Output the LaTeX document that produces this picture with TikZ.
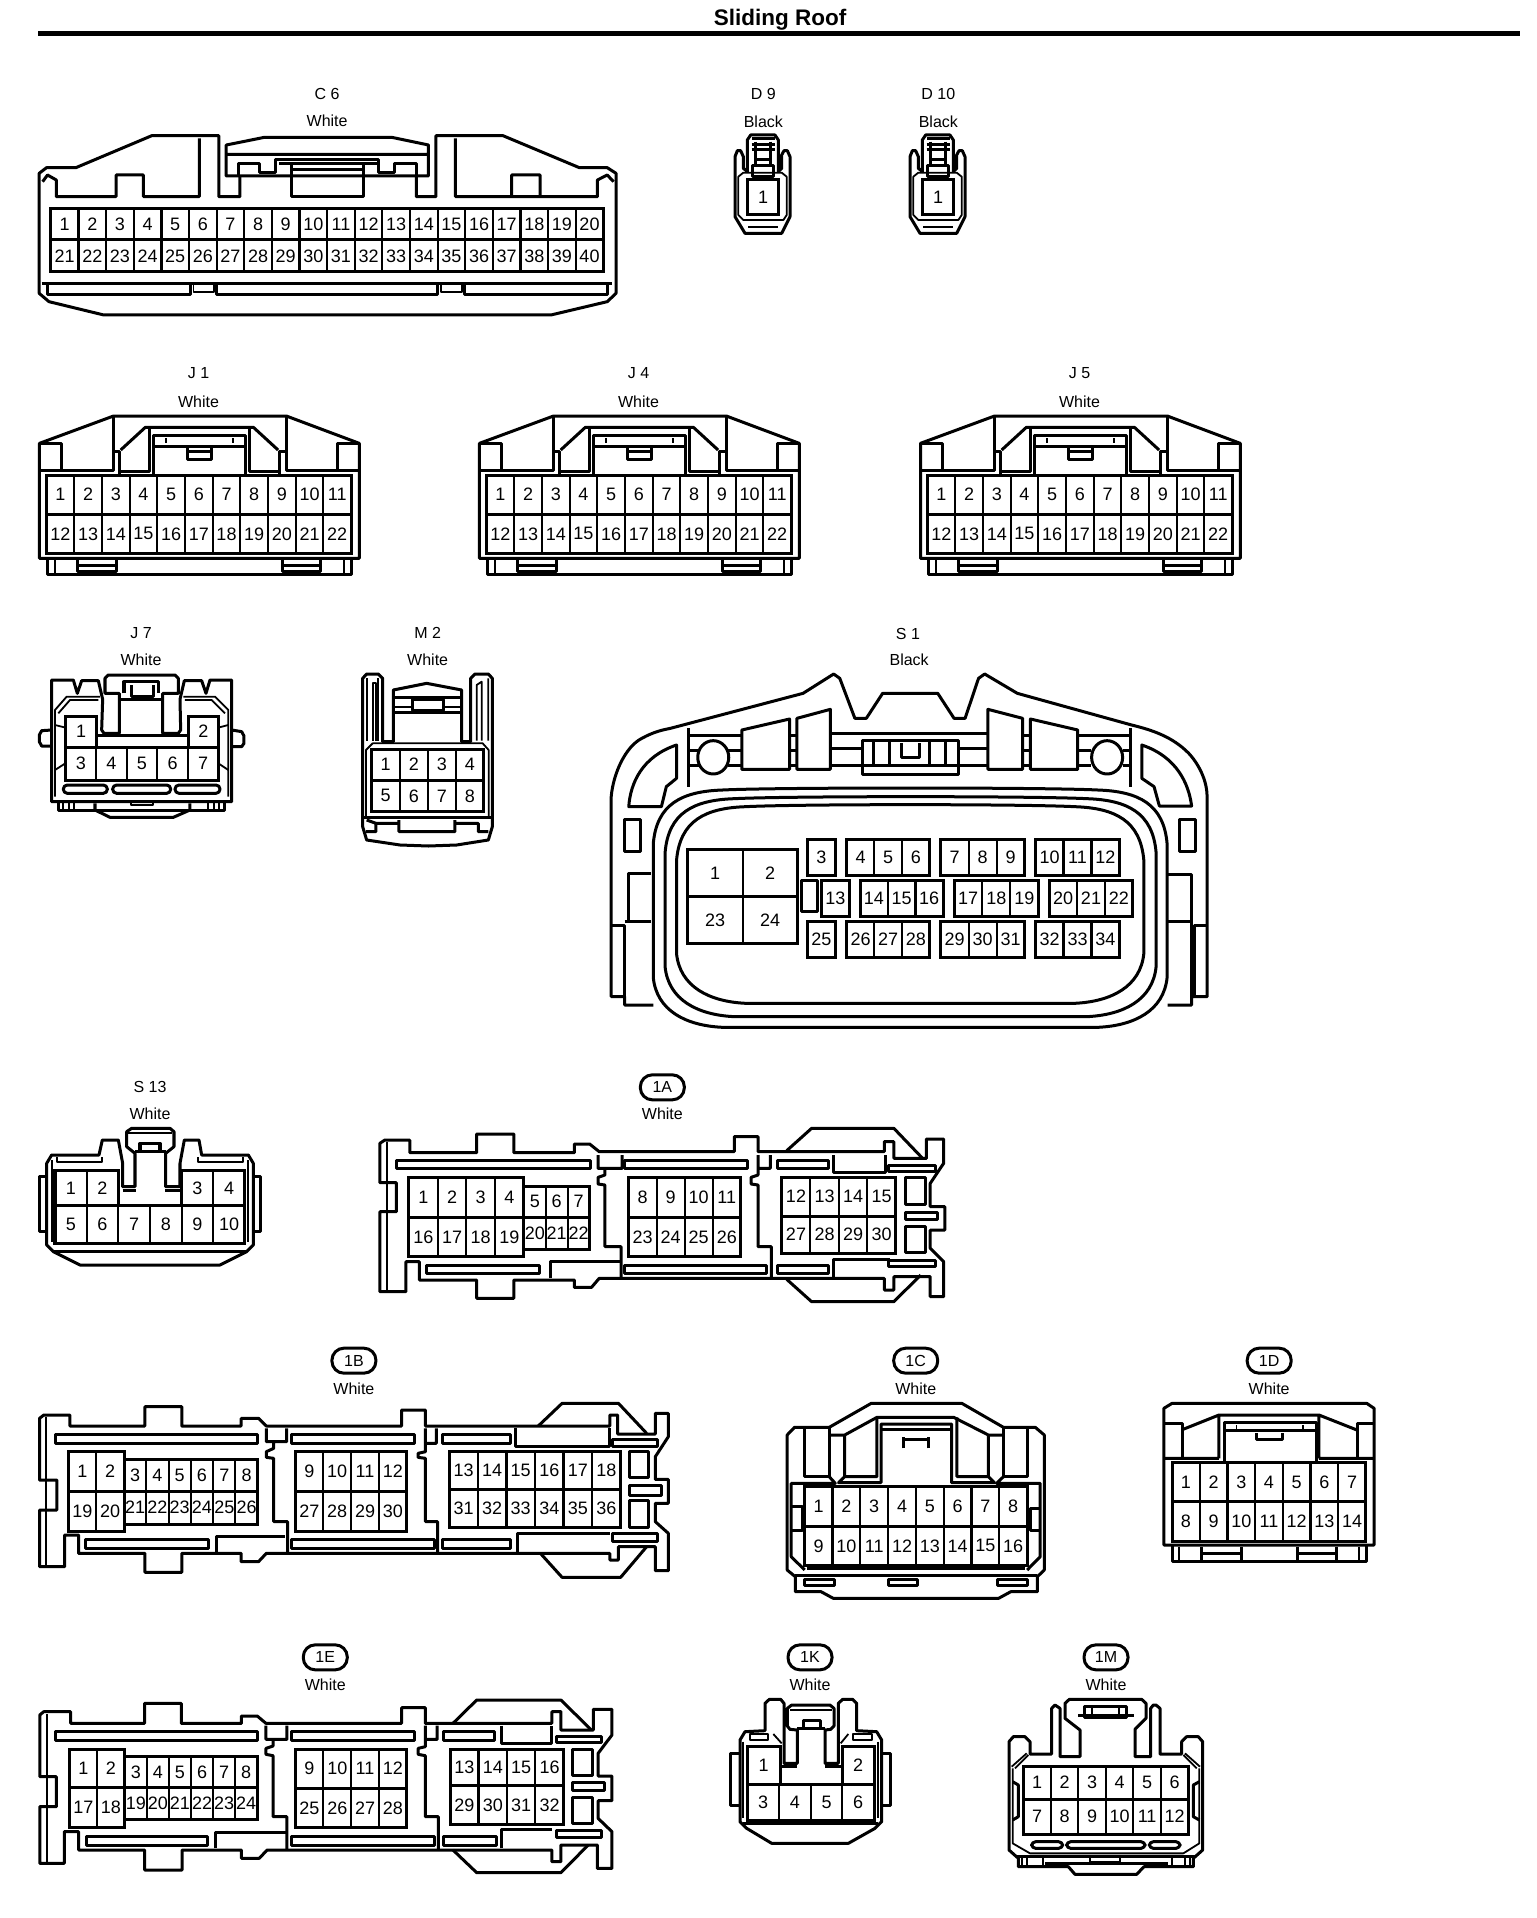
\documentclass[tikz,border=0pt]{standalone}
\usepackage{graphicx}
\usepackage{fontspec}
\setmainfont{Liberation Sans}
\usetikzlibrary{positioning,shapes}

\tikzset{
  wall/.style={draw=black,line width=3pt,line join=round,fill=none},
  rib/.style={draw=black,line width=1.8pt,line join=round,fill=none},
  pinbox/.style={draw=black,line width=3pt},
  pindiv/.style={draw=black,line width=2.2pt},
  pin/.style={inner sep=0pt,font=\fontsize{18}{18}\selectfont},
  tag/.style={inner sep=0pt,font=\fontsize{16}{16}\selectfont},
  badge/.style={draw=black,line width=3pt,rounded corners=12pt,minimum width=44pt,minimum height=25pt,inner sep=0pt,font=\fontsize{16}{16}\selectfont},
  view/.style n args={3}{shift={(#1pt,-#2pt)},x=#3pt,y=-.33333pt}
}

% one row of pins: name, x1, y1, x2, y2, count, first number
\newcommand{\pinrow}[7]{%
  \pgfmathsetmacro{\cellw}{(#4-#2)/#6}
  \pgfmathsetmacro{\celly}{(#3+#5)/2}
  \draw[pinbox] (#2,#3) rectangle (#4,#5);
  \foreach \k in {1,...,#6}{
    \pgfmathsetmacro{\cellx}{#2+(\k-.5)*\cellw}
    \pgfmathsetmacro{\cellr}{#2+\k*\cellw}
    \pgfmathtruncatemacro{\pinno}{#7+\k-1}
    \node[pin] (#1\pinno) at (\cellx,\celly) {\pinno};
    \ifnum\k<#6 \draw[pindiv] (\cellr,#3) -- (\cellr,#5);\fi
  }%
}
% two rows: name, x1, y1, x2, ymid, y2, count, first, second
\newcommand{\pingrid}[9]{%
  \pinrow{#1}{#2}{#3}{#4}{#5}{#7}{#8}
  \pinrow{#1}{#2}{#5}{#4}{#6}{#7}{#9}
}
% seal ring of S 1: left, top, right, bottom
\newcommand{\sealring}[4]{%
  \draw[wall] (#1,#2+170) .. controls (#1+8,#2+50) and (#1+70,#2+12) .. (#1+170,#2+8)
    .. controls (#1+300,#2) and (#3-300,#2) .. (#3-170,#2+8)
    .. controls (#3-70,#2+12) and (#3-8,#2+50) .. (#3,#2+170) -- (#3,#4-150)
    .. controls (#3-8,#4-50) and (#3-80,#4-5) .. (#3-170,#4) -- (#1+170,#4)
    .. controls (#1+80,#4-5) and (#1+8,#4-50) .. (#1,#4-150) -- cycle;
}
% J connector, one view
\newcommand{\jconn}[3]{%
  \begin{scope}[view={#2}{340}{.5485}]
    \node[tag] (#1tag) at (362,100) {#3};
    \node[tag] (#1col) at (362,185) {White};
    \draw[wall] (72,310) -- (207,228) -- (522,228) -- (655,310) -- (655,655) -- (72,655) -- cycle;
    \draw[wall] (87,655) -- (87,703) -- (640,703) -- (640,655);
    \draw[rib] (100,655) -- (100,703) (627,655) -- (627,703);
    \draw[wall] (142,660) -- (142,695) -- (212,695) -- (212,660) (142,677) -- (212,677);
    \draw[wall] (515,660) -- (515,695) -- (585,695) -- (585,660) (515,677) -- (585,677);
    \draw[wall] (72,310) -- (112,310) -- (112,392) (72,392) -- (207,392) -- (207,228);
    \draw[wall] (207,335) -- (217,335) -- (217,405);
    \draw[wall] (615,392) -- (615,310) -- (655,310) (655,392) -- (522,392) -- (522,228);
    \draw[wall] (522,335) -- (510,335) -- (510,405);
    \draw[wall] (220,330) -- (265,262) -- (462,262) -- (507,330);
    \draw[wall] (217,395) -- (272,395) -- (272,265) (510,395) -- (455,395) -- (455,265);
    \draw[wall] (280,405) -- (280,285) -- (448,285) -- (448,405) (280,318) -- (448,318);
    \draw[rib] (303,295) -- (303,308) (425,295) -- (425,308);
    \draw[wall] (342,318) -- (342,358) -- (385,358) -- (385,318) (342,335) -- (385,335);
    \pingrid{#1p}{85}{405}{640}{523}{640}{11}{1}{12}
  \end{scope}%
}
% D connector, one view
\newcommand{\dconn}[4]{%
  \begin{scope}[view={#2}{80}{.33333}]
    \node[tag] (#1tag) at (#4,43) {#3};
    \node[tag] (#1col) at (#4,125) {Black};
    \draw[wall] (45,230) -- (52,212) -- (62,212) -- (70,230) -- (70,265) -- (82,275) -- (82,180) -- (92,165) -- (165,165) -- (175,180)
      -- (175,275) -- (185,265) -- (185,225) -- (192,212) -- (202,212) -- (210,230) -- (210,410) -- (185,460) -- (75,460) -- (45,410) -- cycle;
    \draw[rib] (55,290) -- (55,405) -- (70,420) -- (190,420) -- (200,405) -- (200,290) -- (185,278) -- (70,278) -- cycle;
    \draw[rib] (85,440) -- (175,440);
    \draw[wall] (95,175) -- (165,175) (95,195) -- (165,195) (95,210) -- (165,210);
    \draw[wall] (107,185) -- (107,258) (150,185) -- (150,258) (110,240) -- (148,240);
    \draw[wall] (97,258) rectangle (160,290);
    \pinrow{#1p}{83}{300}{175}{405}{1}{1}
  \end{scope}%
}

\begin{document}
\begin{tikzpicture}[x=1pt,y=-1pt]
  \useasboundingbox (0,0) rectangle (1536,1918);
  \fill[white] (0,0) rectangle (1536,1918);

  % title
  \node[inner sep=0pt,font=\fontsize{22.5}{23}\selectfont\bfseries] (title) at (780,20) {Sliding Roof};
  \fill[black] (38,31) rectangle (1520,36);

  % C 6
  \begin{scope}[view={0}{0}{.4897}]
    \node[tag] (c6tag) at (668,283) {C 6};
    \node[tag] (c6col) at (668,363) {White};
    \draw[wall] (490,528) -- (490,590) -- (447,590) -- (447,407) -- (310,407) -- (155,503) -- (95,503) -- (80,520) -- (80,880) -- (100,905) -- (212,945) -- (1125,945)
      -- (1240,905) -- (1258,880) -- (1258,520) -- (1240,503) -- (1183,503) -- (1027,407) -- (890,407) -- (890,590) -- (850,590) -- (850,528);
    \draw[wall] (462,528) -- (462,435) -- (540,412) -- (800,412) -- (875,435) -- (875,528) -- cycle (462,463) -- (875,463);
    \draw[wall] (487,525) -- (487,490) -- (530,490) -- (530,518) -- (562,518) -- (562,478) -- (772,478) -- (772,518) -- (806,518) -- (806,490) -- (850,490) -- (850,528);
    \draw[wall] (595,490) -- (595,590) -- (742,590) -- (742,490) (570,490) -- (772,490) (595,510) -- (742,510);
    \draw[wall] (407,415) -- (407,590) -- (293,590) -- (293,525) -- (237,525) -- (237,590) -- (115,590) -- (115,540) -- (97,525) -- (87,545);
    \draw[wall] (930,415) -- (930,590) -- (1103,590) -- (1103,525) -- (1045,525) -- (1045,590) -- (1220,590) -- (1220,540) -- (1240,525) -- (1253,545);
    \pingrid{c6p}{104}{625}{1232}{720}{815}{20}{1}{21}
    \draw[wall] (85,850) -- (1250,850);
    \draw[wall] (97,850) -- (97,885) -- (388,885) -- (388,850) (442,850) -- (442,885) -- (893,885) -- (893,850) (948,850) -- (948,885) -- (1240,885) -- (1240,850);
    \draw[rib] (395,855) -- (395,875) -- (437,875) -- (437,855) (900,855) -- (900,875) -- (943,875) -- (943,855);
  \end{scope}

  % D 9, D 10
  \dconn{dnine}{720}{D 9}{130}
  \dconn{dten}{895}{D 10}{130}

  % J 1, J 4, J 5
  \jconn{jone}{0}{J 1}
  \jconn{jfour}{440}{J 4}
  \jconn{jfive}{881}{J 5}

  % J 7
  \begin{scope}[view={0}{610}{.33333}]
    \node[tag] (jseventag) at (423,68) {J 7};
    \node[tag] (jsevencol) at (423,150) {White};
    \draw[wall] (155,575) -- (155,210) -- (220,210) -- (232,250) -- (245,212) -- (295,212) -- (308,268) -- (305,360) -- (312,370) -- (358,370) -- (358,250)
      -- (315,250) -- (315,205) -- (325,195) -- (525,195) -- (535,205) -- (535,250) -- (488,250) -- (488,370) -- (535,370) -- (542,360) -- (540,268)
      -- (553,212) -- (605,212) -- (618,250) -- (630,210) -- (695,210) -- (695,575) -- cycle;
    \draw[wall] (360,268) -- (488,268);
    \draw[wall] (372,250) -- (372,215) -- (475,215) -- (475,250) (395,225) -- (395,258) -- (460,258) -- (460,225);
    \draw[rib] (165,560) -- (165,300) -- (200,260) -- (300,260) (175,310) -- (210,270) -- (295,270);
    \draw[rib] (685,560) -- (685,300) -- (645,260) -- (550,260) (675,310) -- (635,270) -- (555,270);
    \pinrow{jsevenp}{197}{318}{290}{412}{1}{1}
    \pinrow{jsevenq}{565}{318}{655}{412}{1}{2}
    \pinrow{jsevenr}{197}{412}{655}{510}{5}{3}
    \draw[wall] (290,375) -- (565,375);
    \draw[wall] (155,360) -- (125,362) -- (118,375) -- (118,395) -- (125,408) -- (158,408);
    \draw[wall] (695,360) -- (725,365) -- (732,378) -- (732,400) -- (725,410) -- (695,410);
    \draw[rib] (165,345) -- (193,352) (165,480) -- (193,462) (685,345) -- (658,352) (685,480) -- (658,462);
    \draw[wall,rounded corners=4pt] (190,525) rectangle (322,550);
    \draw[wall,rounded corners=4pt] (338,525) rectangle (512,550);
    \draw[wall,rounded corners=4pt] (525,525) rectangle (660,550);
    \draw[wall] (175,575) -- (175,600) -- (675,600) -- (675,575);
    \draw[rib] (190,578) -- (190,600) (207,578) -- (207,600) (222,578) -- (222,600) (625,578) -- (625,600) (642,578) -- (642,600) (658,578) -- (658,600);
    \draw[wall] (285,580) -- (285,600) -- (330,622) -- (520,622) -- (570,600) -- (570,580);
    \draw[rib] (392,578) -- (392,585) -- (458,585) -- (458,578);
  \end{scope}

  % M 2
  \begin{scope}[view={0}{610}{.33333}]
    \node[tag] (mtwotag) at (1283,68) {M 2};
    \node[tag] (mtwocol) at (1283,150) {White};
    \draw[wall] (1088,205) -- (1100,192) -- (1135,192) -- (1148,205) -- (1148,395) -- (1180,395) -- (1180,240) -- (1280,220) -- (1385,240) -- (1385,395) -- (1412,395)
      -- (1412,205) -- (1425,192) -- (1465,192) -- (1477,205) -- (1477,650) -- (1465,690) -- (1370,705) -- (1285,708) -- (1200,705) -- (1100,690) -- (1088,650) -- cycle;
    \draw[rib] (1100,205) -- (1100,392) (1135,205) -- (1135,392) (1118,392) -- (1118,220) -- (1128,220) -- (1128,392);
    \draw[rib] (1430,392) -- (1430,225) -- (1445,215) -- (1445,392) (1465,205) -- (1465,392);
    \draw[wall] (1180,262) -- (1385,262) (1180,308) -- (1385,308);
    \draw[wall] (1238,268) rectangle (1332,300);
    \draw[rib] (1180,290) -- (1238,290) (1332,290) -- (1385,290);
    \draw[rib] (1098,620) -- (1098,420) -- (1118,400) -- (1448,400) -- (1466,420) -- (1466,620);
    \pingrid{mtwop}{1115}{418}{1452}{510}{605}{4}{1}{5}
    \draw[wall] (1090,622) -- (1475,622);
    \draw[wall] (1100,630) -- (1128,640) -- (1128,665) -- (1098,665) (1128,640) -- (1197,640) (1197,630) -- (1197,665) -- (1365,665) -- (1365,630) (1365,640) -- (1435,640) -- (1435,665) -- (1465,665);
  \end{scope}

  % S 1
  \begin{scope}[view={601}{650}{.40816}]
    \node[tag] (sonetag) at (752,-48) {S 1};
    \node[tag] (sonecol) at (755,30) {Black};
    \draw[wall] (128,1065) -- (58,1065) -- (58,1040) -- (25,1040) -- (25,440) .. controls (30,370) and (60,290) .. (100,265) .. controls (130,245) and (150,240) .. (170,235)
      -- (495,130) -- (570,72) -- (585,85) -- (622,205) -- (650,205) -- (690,130) -- (825,130) -- (865,205) -- (892,205) -- (925,85) -- (940,72) -- (1020,130)
      -- (1300,225) .. controls (1350,240) and (1400,260) .. (1440,310) .. controls (1470,350) and (1485,400) .. (1485,440) -- (1485,1040) -- (1447,1040) -- (1447,1065) -- (1388,1065);
    \draw[wall] (25,825) -- (58,825) -- (58,1040) (58,815) -- (122,815) (68,815) -- (68,670) -- (122,670);
    \draw[wall] (1485,825) -- (1455,825) -- (1455,1040) (1447,1040) -- (1447,672) -- (1388,672) (1447,815) -- (1388,815);
    \draw[wall] (57,508) rectangle (97,605);
    \draw[wall] (1418,508) rectangle (1457,605);
    \sealring{128}{412}{1387}{1132}
    \sealring{157}{438}{1360}{1100}
    \sealring{185}{462}{1330}{1060}
    % top band
    \draw[wall] (215,235) -- (215,412) (1298,235) -- (1298,412);
    \draw[wall] (215,255) -- (345,255) (215,300) -- (240,300) (215,345) -- (240,345) (310,300) -- (345,300) (310,345) -- (345,345);
    \draw[wall] (462,255) -- (480,255) (462,300) -- (480,300) (462,345) -- (480,345);
    \draw[wall] (565,250) -- (948,250) (565,295) -- (640,295) (875,295) -- (948,295) (565,345) -- (640,345) (875,345) -- (948,345);
    \draw[wall] (1033,255) -- (1052,255) (1033,300) -- (1052,300) (1033,345) -- (1052,345);
    \draw[wall] (1168,255) -- (1298,255) (1168,300) -- (1200,300) (1168,345) -- (1200,345) (1278,300) -- (1298,300) (1278,345) -- (1298,345);
    \draw[wall] (275,322) ellipse [x radius=38,y radius=50];
    \draw[wall] (1240,322) ellipse [x radius=38,y radius=50];
    \draw[wall] (345,240) -- (462,207) -- (462,358) -- (345,358) -- cycle;
    \draw[wall] (480,205) -- (562,178) -- (562,358) -- (480,358) -- cycle;
    \draw[wall] (948,178) -- (1033,205) -- (1033,358) -- (948,358) -- cycle;
    \draw[wall] (1052,207) -- (1168,240) -- (1168,358) -- (1052,358) -- cycle;
    \draw[wall] (640,272) rectangle (875,372);
    \draw[wall] (640,345) -- (875,345) (668,272) -- (668,345) (708,272) -- (708,345) (805,272) -- (805,345) (845,272) -- (845,345);
    \draw[wall] (735,280) -- (735,322) -- (780,322) -- (780,280);
    \draw[wall] (185,285) -- (185,385) -- (160,410) -- (148,470) -- (68,470) .. controls (72,400) and (100,320) .. (185,285) -- cycle;
    \draw[wall] (1325,285) -- (1325,385) -- (1355,410) -- (1368,468) -- (1447,468) .. controls (1440,400) and (1410,320) .. (1325,285) -- cycle;
    \draw[wall] (490,690) rectangle (530,785);
    % pins
    \pingrid{sonep}{212}{598}{482}{740}{880}{2}{1}{23}
    \pinrow{soneq}{505}{568}{575}{675}{1}{3}
    \pinrow{soneq}{602}{568}{805}{675}{3}{4}
    \pinrow{soneq}{832}{568}{1038}{675}{3}{7}
    \pinrow{soneq}{1065}{568}{1270}{675}{3}{10}
    \pinrow{soneq}{540}{690}{608}{798}{1}{13}
    \pinrow{soneq}{635}{690}{838}{798}{3}{14}
    \pinrow{soneq}{865}{690}{1072}{798}{3}{17}
    \pinrow{soneq}{1098}{690}{1303}{798}{3}{20}
    \pinrow{soneq}{505}{813}{575}{922}{1}{25}
    \pinrow{soneq}{602}{813}{805}{922}{3}{26}
    \pinrow{soneq}{832}{813}{1038}{922}{3}{29}
    \pinrow{soneq}{1065}{813}{1270}{922}{3}{32}
  \end{scope}

  % S 13
  \begin{scope}[view={0}{1060}{.33333}]
    \node[tag] (sthirteentag) at (450,80) {S 13};
    \node[tag] (sthirteencol) at (450,162) {White};
    \draw[wall] (155,285) -- (297,285) -- (307,240) -- (355,240) -- (368,310) -- (368,380) -- (405,380) -- (405,280) -- (380,260) -- (380,215) -- (395,205) -- (510,205) -- (522,215) -- (522,260)
      -- (497,280) -- (497,380) -- (540,380) -- (540,310) -- (553,240) -- (597,240) -- (605,285) -- (745,285) -- (760,310) -- (760,555) -- (740,575) -- (660,615) -- (240,615) -- (160,575) -- (140,555) -- (140,310) -- cycle;
    \draw[rib] (385,220) -- (515,220);
    \draw[wall] (420,280) -- (420,250) -- (480,250) -- (480,280) (405,275) -- (497,275);
    \draw[wall] (368,392) -- (408,392) (495,392) -- (540,392);
    \draw[rib] (155,300) -- (155,545) (745,300) -- (745,545) (170,292) -- (170,305) -- (305,305) -- (305,290) (730,292) -- (730,305) -- (595,305) -- (595,290);
    \draw[wall] (140,350) -- (118,350) -- (118,515) -- (140,515) (760,350) -- (783,350) -- (783,515) -- (760,515);
    \pinrow{sthirteenp}{165}{330}{355}{437}{2}{1}
    \pinrow{sthirteenp}{545}{330}{735}{437}{2}{3}
    \pinrow{sthirteenp}{165}{437}{735}{550}{6}{5}
    \draw[wall] (160,575) -- (740,575);
  \end{scope}

  % 1A
  \begin{scope}[view={360}{1060}{.38270}]
    \node[badge] (oneAtag) at (790,82) {1A};
    \node[tag] (oneAcol) at (790,162) {White};
    \draw[wall] (52,250) -- (52,368) -- (95,368) -- (95,455) -- (52,455) -- (52,695) -- (120,695) -- (120,605) -- (155,605) -- (155,660) -- (305,660) -- (305,715) -- (402,715) -- (402,660) -- (560,660) -- (560,682) -- (605,682) -- (625,655)
      -- (1370,655) -- (1370,690) -- (1395,690) -- (1395,650) -- (1490,650) -- (1490,710) -- (1525,710) -- (1525,605) -- (1490,565) -- (1490,510) -- (1528,510) -- (1528,440) -- (1490,440) -- (1490,370) -- (1525,310) -- (1525,237) -- (1480,237) -- (1480,295) -- (1395,295) -- (1395,245) -- (1370,245) -- (1370,275)
      -- (1040,275) -- (1040,230) -- (978,230) -- (978,275) -- (625,275) -- (600,252) -- (560,252) -- (560,278) -- (402,278) -- (402,222) -- (305,222) -- (305,278) -- (130,278) -- (130,240) -- (65,240) -- cycle;
    \draw[rib] (70,245) -- (70,690);
    \draw[wall] (1115,272) -- (1180,205) -- (1395,205) -- (1470,295) (1115,658) -- (1180,725) -- (1395,725) -- (1465,645);
    \draw[wall] (95,300) rectangle (602,325) (690,300) rectangle (1012,325) (1090,300) rectangle (1225,325);
    \draw[wall] (175,615) rectangle (470,640) (690,615) rectangle (1062,640) (1090,615) rectangle (1225,640);
    \draw[wall] (622,285) -- (622,325) -- (685,325) -- (685,285) (640,325) -- (640,345) -- (622,352) -- (622,372) -- (640,375) -- (640,560) -- (682,560) -- (682,655);
    \draw[wall] (1040,285) -- (1040,325) -- (1072,325) -- (1072,285) (1040,325) -- (1040,345) -- (1022,352) -- (1022,372) -- (1040,375) -- (1040,560) -- (1075,560) -- (1075,655);
    \draw[wall] (497,655) -- (497,605) -- (680,605);
    \draw[wall] (1237,285) -- (1237,337) -- (1372,337) -- (1372,285) (1237,655) -- (1237,598) -- (1385,598);
    \draw[wall] (1382,315) rectangle (1503,333) (1425,352) rectangle (1478,432) (1425,457) rectangle (1510,478) (1425,498) rectangle (1478,578) (1382,600) rectangle (1503,618);
    \pingrid{oneAp}{128}{352}{428}{472}{590}{4}{1}{16}
    \pingrid{oneAp}{428}{378}{600}{472}{568}{3}{5}{20}
    \pingrid{oneAp}{702}{352}{995}{472}{590}{4}{8}{23}
    \pingrid{oneAp}{1102}{352}{1400}{468}{580}{4}{12}{27}
  \end{scope}

  % 1B
  \begin{scope}[view={20}{1340}{.43367}]
    \node[badge] (oneBtag) at (770,62) {1B};
    \node[tag] (oneBcol) at (770,145) {White};
    \draw[wall] (45,235) -- (45,420) -- (85,420) -- (85,510) -- (45,510) -- (45,680) -- (103,680) -- (103,585) -- (135,585) -- (135,640) -- (288,640) -- (288,697) -- (373,697) -- (373,640) -- (510,640) -- (510,665) -- (550,665) -- (568,640)
      -- (1360,640) -- (1360,660) -- (1380,660) -- (1380,620) -- (1465,620) -- (1465,692) -- (1495,692) -- (1495,580) -- (1465,545) -- (1465,490) -- (1495,490) -- (1495,418) -- (1465,418) -- (1465,350) -- (1495,290) -- (1495,220) -- (1465,220) -- (1465,282) -- (1378,282) -- (1378,225) -- (1360,225) -- (1360,258)
      -- (935,258) -- (935,210) -- (880,210) -- (880,258) -- (568,258) -- (550,235) -- (510,235) -- (510,258) -- (373,258) -- (373,200) -- (288,200) -- (288,258) -- (115,258) -- (115,225) -- (55,225) -- cycle;
    \draw[rib] (60,232) -- (60,675);
    \draw[wall] (1195,258) -- (1250,190) -- (1380,190) -- (1445,280) (1200,640) -- (1250,712) -- (1385,712) -- (1445,620);
    \draw[wall] (82,283) rectangle (548,310) (626,283) rectangle (910,310) (975,283) rectangle (1130,310);
    \draw[wall] (152,597) rectangle (435,625) (625,597) rectangle (955,625) (975,597) rectangle (1130,625);
    \draw[wall] (568,265) -- (568,305) -- (615,305) -- (615,265) (585,305) -- (585,325) -- (568,335) -- (568,352) -- (585,355) -- (585,545) -- (617,545) -- (617,640);
    \draw[wall] (935,265) -- (935,310) -- (960,310) -- (960,265) (935,310) -- (935,335) -- (918,340) -- (918,352) -- (935,355) -- (935,545) -- (963,545) -- (963,640);
    \draw[wall] (452,635) -- (452,590) -- (612,590);
    \draw[wall] (1143,265) -- (1143,320) -- (1360,320) -- (1360,265) (1147,635) -- (1147,580) -- (1360,580);
    \draw[wall] (1367,297) rectangle (1470,318) (1405,335) rectangle (1450,412) (1405,437) rectangle (1480,465) (1405,480) rectangle (1450,562) (1367,580) rectangle (1470,603);
    \pingrid{oneBp}{112}{335}{240}{453}{575}{2}{1}{19}
    \pingrid{oneBp}{240}{358}{548}{453}{552}{6}{3}{21}
    \pingrid{oneBp}{635}{335}{892}{453}{575}{4}{9}{27}
    \pingrid{oneBp}{990}{335}{1385}{448}{562}{6}{13}{31}
  \end{scope}

  % 1C
  \begin{scope}[view={770}{1340}{.40816}]
    \node[badge] (oneCtag) at (357,62) {1C};
    \node[tag] (oneCcol) at (357,145) {White};
    \draw[wall] (145,262) -- (248,190) -- (470,190) -- (572,262) -- (650,262) -- (672,285) -- (672,690) -- (655,710) -- (655,755) -- (590,755) -- (560,775) -- (155,775) -- (125,755) -- (62,755) -- (62,710) -- (42,690) -- (42,285) -- (60,262) -- cycle;
    \draw[wall] (145,262) -- (145,410) -- (85,410) -- (85,265) (572,262) -- (572,410) -- (632,410) -- (632,265);
    \draw[wall] (145,285) -- (183,285) -- (262,232) -- (450,232) -- (535,285) -- (572,285);
    \draw[wall] (183,285) -- (183,410) -- (168,428) -- (272,428) -- (272,252) -- (445,252) -- (445,428) -- (550,428) -- (535,410) -- (535,285) (262,232) -- (262,410) -- (183,410) (458,232) -- (458,410) -- (535,410);
    \draw[wall] (272,268) -- (445,268) (328,325) -- (328,290) (388,325) -- (388,290) (328,297) -- (388,297);
    \draw[wall] (145,410) -- (160,430) -- (52,430) -- (52,650) -- (85,690) (572,410) -- (555,430) -- (662,430) -- (662,650) -- (630,690);
    \draw[wall] (52,500) -- (80,500) -- (80,572) -- (52,572) (662,505) -- (638,505) -- (638,570) -- (662,570);
    \pingrid{oneCp}{85}{440}{630}{560}{675}{8}{1}{9}
    \draw[wall] (90,685) -- (625,685) (62,705) -- (655,705);
    \draw[wall] (85,717) rectangle (158,737) (290,717) rectangle (362,737) (558,717) rectangle (630,737);
  \end{scope}

  % 1D
  \begin{scope}[view={770}{1340}{.40816}]
    \node[badge] (oneDtag) at (1223,62) {1D};
    \node[tag] (oneDcol) at (1223,145) {White};
    \draw[wall] (965,205) -- (985,190) -- (1462,190) -- (1480,205) -- (1480,615) -- (965,615) -- cycle;
    \draw[wall] (965,250) -- (1010,250) -- (1010,355) (1480,250) -- (1440,250) -- (1440,355);
    \draw[wall] (1012,268) -- (1100,225) -- (1345,225) -- (1438,270) (1100,225) -- (1100,355) (1345,225) -- (1345,355) (965,355) -- (1100,355) (1345,355) -- (1480,355);
    \draw[wall] (1114,367) -- (1114,248) -- (1338,248) -- (1338,367) (1114,272) -- (1338,272);
    \draw[rib] (1143,255) -- (1143,270) (1305,255) -- (1305,270);
    \draw[wall] (1193,280) -- (1193,298) -- (1255,298) -- (1255,280);
    \pingrid{oneDp}{985}{367}{1460}{485}{605}{7}{1}{8}
    \draw[wall] (985,615) -- (985,665) -- (1462,665) -- (1462,615);
    \draw[rib] (1003,620) -- (1003,660) (1443,620) -- (1443,660);
    \draw[wall] (1058,620) -- (1058,660) (1155,620) -- (1155,660) (1058,640) -- (1155,640) (1292,620) -- (1292,660) (1387,620) -- (1387,660) (1292,640) -- (1387,640);
  \end{scope}

  % 1E
  \begin{scope}[view={20}{1640}{.39541}]
    \node[badge] (oneEtag) at (772,52) {1E};
    \node[tag] (oneEcol) at (772,135) {White};
    \draw[wall] (50,225) -- (50,410) -- (92,410) -- (92,500) -- (50,500) -- (50,670) -- (112,670) -- (112,575) -- (148,575) -- (148,630) -- (315,630) -- (315,690) -- (410,690) -- (410,630) -- (560,630) -- (560,655) -- (605,655) -- (625,630)
      -- (1345,630) -- (1345,665) -- (1368,665) -- (1368,615) -- (1460,615) -- (1460,685) -- (1497,685) -- (1497,575) -- (1462,535) -- (1462,482) -- (1497,482) -- (1497,408) -- (1462,408) -- (1462,340) -- (1497,285) -- (1497,208) -- (1450,208) -- (1450,270) -- (1368,270) -- (1368,215) -- (1345,215) -- (1345,250)
      -- (1025,250) -- (1025,203) -- (965,203) -- (965,250) -- (622,250) -- (600,228) -- (560,228) -- (560,250) -- (408,250) -- (408,190) -- (315,190) -- (315,250) -- (128,250) -- (128,215) -- (60,215) -- cycle;
    \draw[rib] (68,222) -- (68,665);
    \draw[wall] (1095,250) -- (1155,180) -- (1368,180) -- (1445,270) (1095,630) -- (1155,698) -- (1368,698) -- (1437,615);
    \draw[wall] (90,275) rectangle (600,300) (687,275) rectangle (997,300) (1070,275) rectangle (1200,300);
    \draw[wall] (168,590) rectangle (475,615) (687,590) rectangle (1047,615) (1070,590) rectangle (1205,615);
    \draw[wall] (622,257) -- (622,298) -- (675,298) -- (675,257) (640,298) -- (640,318) -- (622,325) -- (622,343) -- (640,347) -- (640,530) -- (675,530) -- (675,630);
    \draw[wall] (1025,257) -- (1025,298) -- (1055,298) -- (1055,257) (1025,298) -- (1025,320) -- (1007,325) -- (1007,343) -- (1025,347) -- (1025,530) -- (1058,530) -- (1058,630);
    \draw[wall] (495,625) -- (495,578) -- (672,578);
    \draw[wall] (1218,257) -- (1218,310) -- (1345,310) -- (1345,257) (1218,625) -- (1218,568) -- (1345,568);
    \draw[wall] (1357,288) rectangle (1470,307) (1397,328) rectangle (1447,405) (1397,428) rectangle (1477,452) (1397,472) rectangle (1447,550) (1357,572) rectangle (1470,592);
    \pingrid{oneEp}{125}{327}{265}{443}{562}{2}{1}{17}
    \pingrid{oneEp}{265}{350}{600}{443}{538}{6}{3}{19}
    \pingrid{oneEp}{697}{327}{978}{445}{562}{4}{9}{25}
    \pingrid{oneEp}{1088}{327}{1375}{437}{552}{4}{13}{29}
  \end{scope}

  % 1K
  \begin{scope}[view={710}{1640}{.33333}]
    \node[badge] (oneKtag) at (300,52) {1K};
    \node[tag] (oneKcol) at (300,135) {White};
    \draw[wall] (90,300) -- (105,275) -- (165,272) -- (165,190) -- (178,178) -- (212,178) -- (222,190) -- (222,370) -- (262,370) -- (262,270) -- (240,268) -- (232,258) -- (232,205) -- (245,195) -- (360,195) -- (372,205) -- (372,258) -- (362,268) -- (345,270) -- (345,370)
      -- (385,370) -- (385,190) -- (398,178) -- (428,178) -- (440,190) -- (440,272) -- (500,275) -- (515,300) -- (515,545) -- (495,565) -- (415,610) -- (185,610) -- (110,565) -- (90,545) -- cycle;
    \draw[rib] (240,210) -- (365,210);
    \draw[wall] (280,268) -- (280,242) -- (332,242) -- (332,268) (262,265) -- (345,265) (215,380) -- (262,380) (345,380) -- (392,380);
    \draw[rib] (100,305) -- (100,535) (505,305) -- (505,535) (120,300) -- (120,282) -- (175,282) -- (175,300) -- cycle (430,300) -- (430,282) -- (485,282) -- (485,300) -- cycle;
    \draw[rib] (215,310) -- (190,282) (392,310) -- (415,282);
    \draw[wall] (90,340) -- (62,340) -- (62,495) -- (90,495) (515,340) -- (540,340) -- (540,495) -- (515,495);
    \pinrow{oneKp}{112}{320}{210}{432}{1}{1}
    \pinrow{oneKp}{397}{320}{492}{432}{1}{2}
    \pinrow{oneKp}{112}{432}{492}{540}{4}{3}
    \draw[wall] (100,550) -- (505,550);
  \end{scope}

  % 1M
  \begin{scope}[view={710}{1640}{.33333}]
    \node[badge] (oneMtag) at (1188,52) {1M};
    \node[tag] (oneMcol) at (1188,135) {White};
    \draw[wall] (1065,190) -- (1065,235) -- (1110,270) -- (1110,350) -- (1050,350) -- (1050,205) -- (1035,195) -- (1025,205) -- (1025,342) -- (960,342) -- (960,305) -- (945,290) -- (910,290) -- (897,305) -- (897,630) -- (925,655) -- (925,680) -- (1075,680) -- (1095,703) -- (1280,703) -- (1302,680) -- (1450,680) -- (1450,655) -- (1478,630) -- (1478,305)
      -- (1465,290) -- (1430,290) -- (1415,305) -- (1415,342) -- (1350,342) -- (1350,205) -- (1338,195) -- (1330,195) -- (1322,205) -- (1322,350) -- (1275,350) -- (1275,268) -- (1308,235) -- (1308,190) -- (1295,178) -- (1078,178) -- cycle;
    \draw[wall] (1105,225) -- (1272,225);
    \draw[wall] (1122,200) rectangle (1250,232);
    \draw[rib] (1145,205) -- (1145,228) (1228,205) -- (1228,228);
    \draw[rib] (905,380) -- (950,340) (915,385) -- (955,345) (1470,380) -- (1425,340) (1460,385) -- (1420,345);
    \draw[rib] (908,385) -- (908,610) -- (960,640) -- (1420,640) -- (1468,610) -- (1468,385);
    \draw[wall] (908,425) -- (925,435) -- (925,530) -- (908,540) (1468,425) -- (1450,435) -- (1450,530) -- (1468,540);
    \pingrid{oneMp}{940}{378}{1435}{478}{582}{6}{1}{7}
    \draw[wall,rounded corners=4pt] (965,605) rectangle (1058,625);
    \draw[wall,rounded corners=4pt] (1070,605) rectangle (1305,625);
    \draw[wall,rounded corners=4pt] (1318,605) rectangle (1410,625);
    \draw[wall] (920,650) -- (1455,650) (1005,670) -- (1375,670);
    \draw[rib] (1140,655) -- (1140,665) -- (1230,665) -- (1230,655);
    \draw[rib] (935,655) -- (935,680) (950,655) -- (950,680) (1000,655) -- (1000,680) (1385,655) -- (1385,680) (1425,655) -- (1425,680) (1440,655) -- (1440,680);
  \end{scope}
\end{tikzpicture}
\end{document}
